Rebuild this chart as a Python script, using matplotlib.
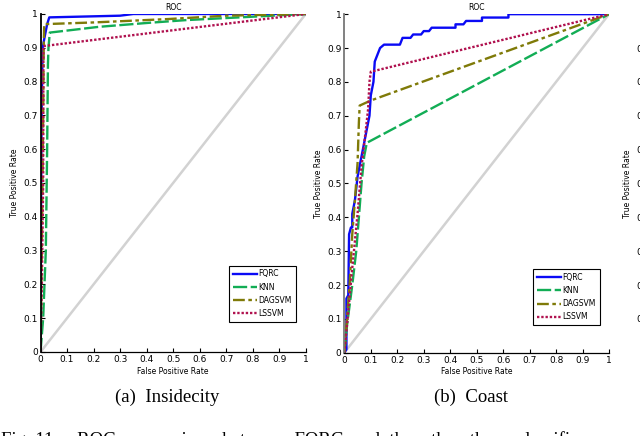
import matplotlib
matplotlib.use('Agg')
import matplotlib.pyplot as plt
from matplotlib.ticker import FuncFormatter

# ROC data (false positive rate, true positive rate)
methods = ['FQRC', 'KNN', 'DAGSVM', 'LSSVM']

# (a) Insidecity
a_fqrc_fpr = [0, 0.002, 0.004, 0.008, 0.015, 0.02, 0.025, 0.033, 0.3, 0.35, 1]
a_fqrc_tpr = [0, 0.4, 0.7, 0.9, 0.93, 0.95, 0.97, 0.99, 0.995, 1.0, 1.0]
a_knn_fpr = [0, 0.01, 0.02, 0.025, 0.028, 0.03, 0.035, 0.22, 0.41, 0.55, 0.75, 1]
a_knn_tpr = [0, 0.1, 0.3, 0.6, 0.85, 0.9, 0.945, 0.962, 0.974, 0.982, 0.99, 1.0]
a_dag_fpr = [0, 0.005, 0.01, 0.012, 0.014, 0.2, 0.48, 0.7, 1]
a_dag_tpr = [0, 0.3, 0.7, 0.9, 0.97, 0.975, 0.985, 0.995, 1.0]
a_ls_fpr = [0, 0.005, 0.01, 0.011, 1]
a_ls_tpr = [0, 0.2, 0.5, 0.905, 1.0]

# (b) Coast
b_fqrc_fpr = [0, 0.008, 0.008, 0.015, 0.018, 0.025, 0.03, 0.03, 0.04, 0.05, 0.07, 0.085,
              0.095, 0.1, 0.11, 0.115, 0.125, 0.135, 0.15, 0.21, 0.22, 0.25, 0.26, 0.29,
              0.3, 0.32, 0.33, 0.42, 0.42, 0.45, 0.46, 0.52, 0.52, 0.62, 0.62, 1]
b_fqrc_tpr = [0, 0.01, 0.16, 0.17, 0.35, 0.37, 0.37, 0.41, 0.45, 0.52, 0.6, 0.66,
              0.7, 0.76, 0.8, 0.86, 0.88, 0.9, 0.91, 0.91, 0.93, 0.93, 0.94, 0.94,
              0.95, 0.95, 0.96, 0.96, 0.97, 0.97, 0.98, 0.98, 0.99, 0.99, 1.0, 1.0]
b_knn_fpr = [0, 0.01, 0.03, 0.045, 0.055, 0.065, 0.075, 0.085, 1]
b_knn_tpr = [0, 0.08, 0.2, 0.3, 0.4, 0.5, 0.58, 0.62, 1.0]
b_dag_fpr = [0, 0.01, 0.02, 0.03, 0.04, 0.05, 0.055, 0.058, 0.1, 1]
b_dag_tpr = [0, 0.1, 0.2, 0.35, 0.45, 0.56, 0.68, 0.73, 0.745, 1.0]
b_ls_fpr = [0, 0.01, 0.03, 0.05, 0.065, 0.08, 0.09, 0.095, 0.1, 1]
b_ls_tpr = [0, 0.08, 0.25, 0.41, 0.55, 0.65, 0.72, 0.8, 0.83, 1.0]

ticks = [0, 0.1, 0.2, 0.3, 0.4, 0.5, 0.6, 0.7, 0.8, 0.9, 1]
captions = ['(a)  Insidecity', '(b)  Coast']

colors = ['#0a0af5', '#12ad55', '#7f7a08', '#b0124f']
styles = ['-', (0, (6, 1.5)), (0, (5, 1.5, 1.5, 1.5)), (0, (1, 0.8))]

plt.rcParams['font.family'] = ['Liberation Sans Narrow', 'DejaVu Sans']


def fmt(v, pos):
    return '%g' % v


def style_axes(ax, spine_color):
    ax.set_xlim(0, 1)
    ax.set_ylim(0, 1)
    ax.set_xticks(ticks)
    ax.set_yticks(ticks)
    ax.xaxis.set_major_formatter(FuncFormatter(fmt))
    ax.yaxis.set_major_formatter(FuncFormatter(fmt))
    ax.spines['top'].set_visible(False)
    ax.spines['right'].set_visible(False)
    ax.spines['left'].set_color(spine_color)
    ax.spines['left'].set_linewidth(1.3)
    ax.spines['bottom'].set_linewidth(0.9)
    ax.tick_params(direction='in', length=3, width=0.8, labelsize=6.5, pad=2)
    ax.set_title('ROC', fontsize=5.5, pad=3)
    ax.set_xlabel('False Positive Rate', fontsize=5.5, labelpad=2)
    ax.set_ylabel('True Positive Rate', fontsize=5.5, labelpad=3)


fig = plt.figure(figsize=(6.4, 4.36), dpi=100)
ax_a = fig.add_axes([0.0633, 0.1927, 0.4144, 0.7752])
ax_b = fig.add_axes([0.538, 0.191, 0.4136, 0.7765])
ax_c = fig.add_axes([1.021, 0.191, 0.4136, 0.7765])

panels = [
    (ax_a, [(a_fqrc_fpr, a_fqrc_tpr), (a_knn_fpr, a_knn_tpr), (a_dag_fpr, a_dag_tpr), (a_ls_fpr, a_ls_tpr)], 'black', 0.696, 0.078),
    (ax_b, [(b_fqrc_fpr, b_fqrc_tpr), (b_knn_fpr, b_knn_tpr), (b_dag_fpr, b_dag_tpr), (b_ls_fpr, b_ls_tpr)], '#777777', 0.698, 0.07),
]

for ax, curves, spine_color, lx, ly in panels:
    ax.plot([0, 1], [0, 1], color='#d2d2d2', lw=1.8, zorder=1)
    for (fpr, tpr), name, c, ls in zip(curves, methods, colors, styles):
        ax.plot(fpr, tpr, color=c, ls=ls, lw=1.7, label=name, zorder=2)
    style_axes(ax, spine_color)
    leg = ax.legend(loc='lower left', bbox_to_anchor=(lx, ly), fontsize=5.5,
                    handlelength=3.2, handletextpad=0.2, borderpad=0.5,
                    labelspacing=0.55, fancybox=False, framealpha=1)
    leg.get_frame().set_edgecolor('black')
    leg.get_frame().set_linewidth(0.8)

# third panel, cut by the right edge of the figure
ax_c.set_ylim(0, 1)
ax_c.set_yticks(ticks[1:-1])
ax_c.set_xticks([])
ax_c.yaxis.set_major_formatter(FuncFormatter(fmt))
ax_c.tick_params(direction='in', length=3, labelsize=6.5, pad=2)
ax_c.set_ylabel('True Positive Rate', fontsize=5.5, labelpad=3)

cap_x = [167.5 / 640, 470.7 / 640]
for x, cap in zip(cap_x, captions):
    fig.text(x, 1 - 397 / 436, cap, ha='center', va='center',
             fontsize=13.5, family='Liberation Serif')

fig.text(0.002, -0.021, 'Fig. 11.    ROC  comparison  between  FQRC  and  the  other  three  classifiers',
         ha='left', va='baseline', fontsize=13.5, family='Liberation Serif')

fig.savefig('out.png', dpi=100)
